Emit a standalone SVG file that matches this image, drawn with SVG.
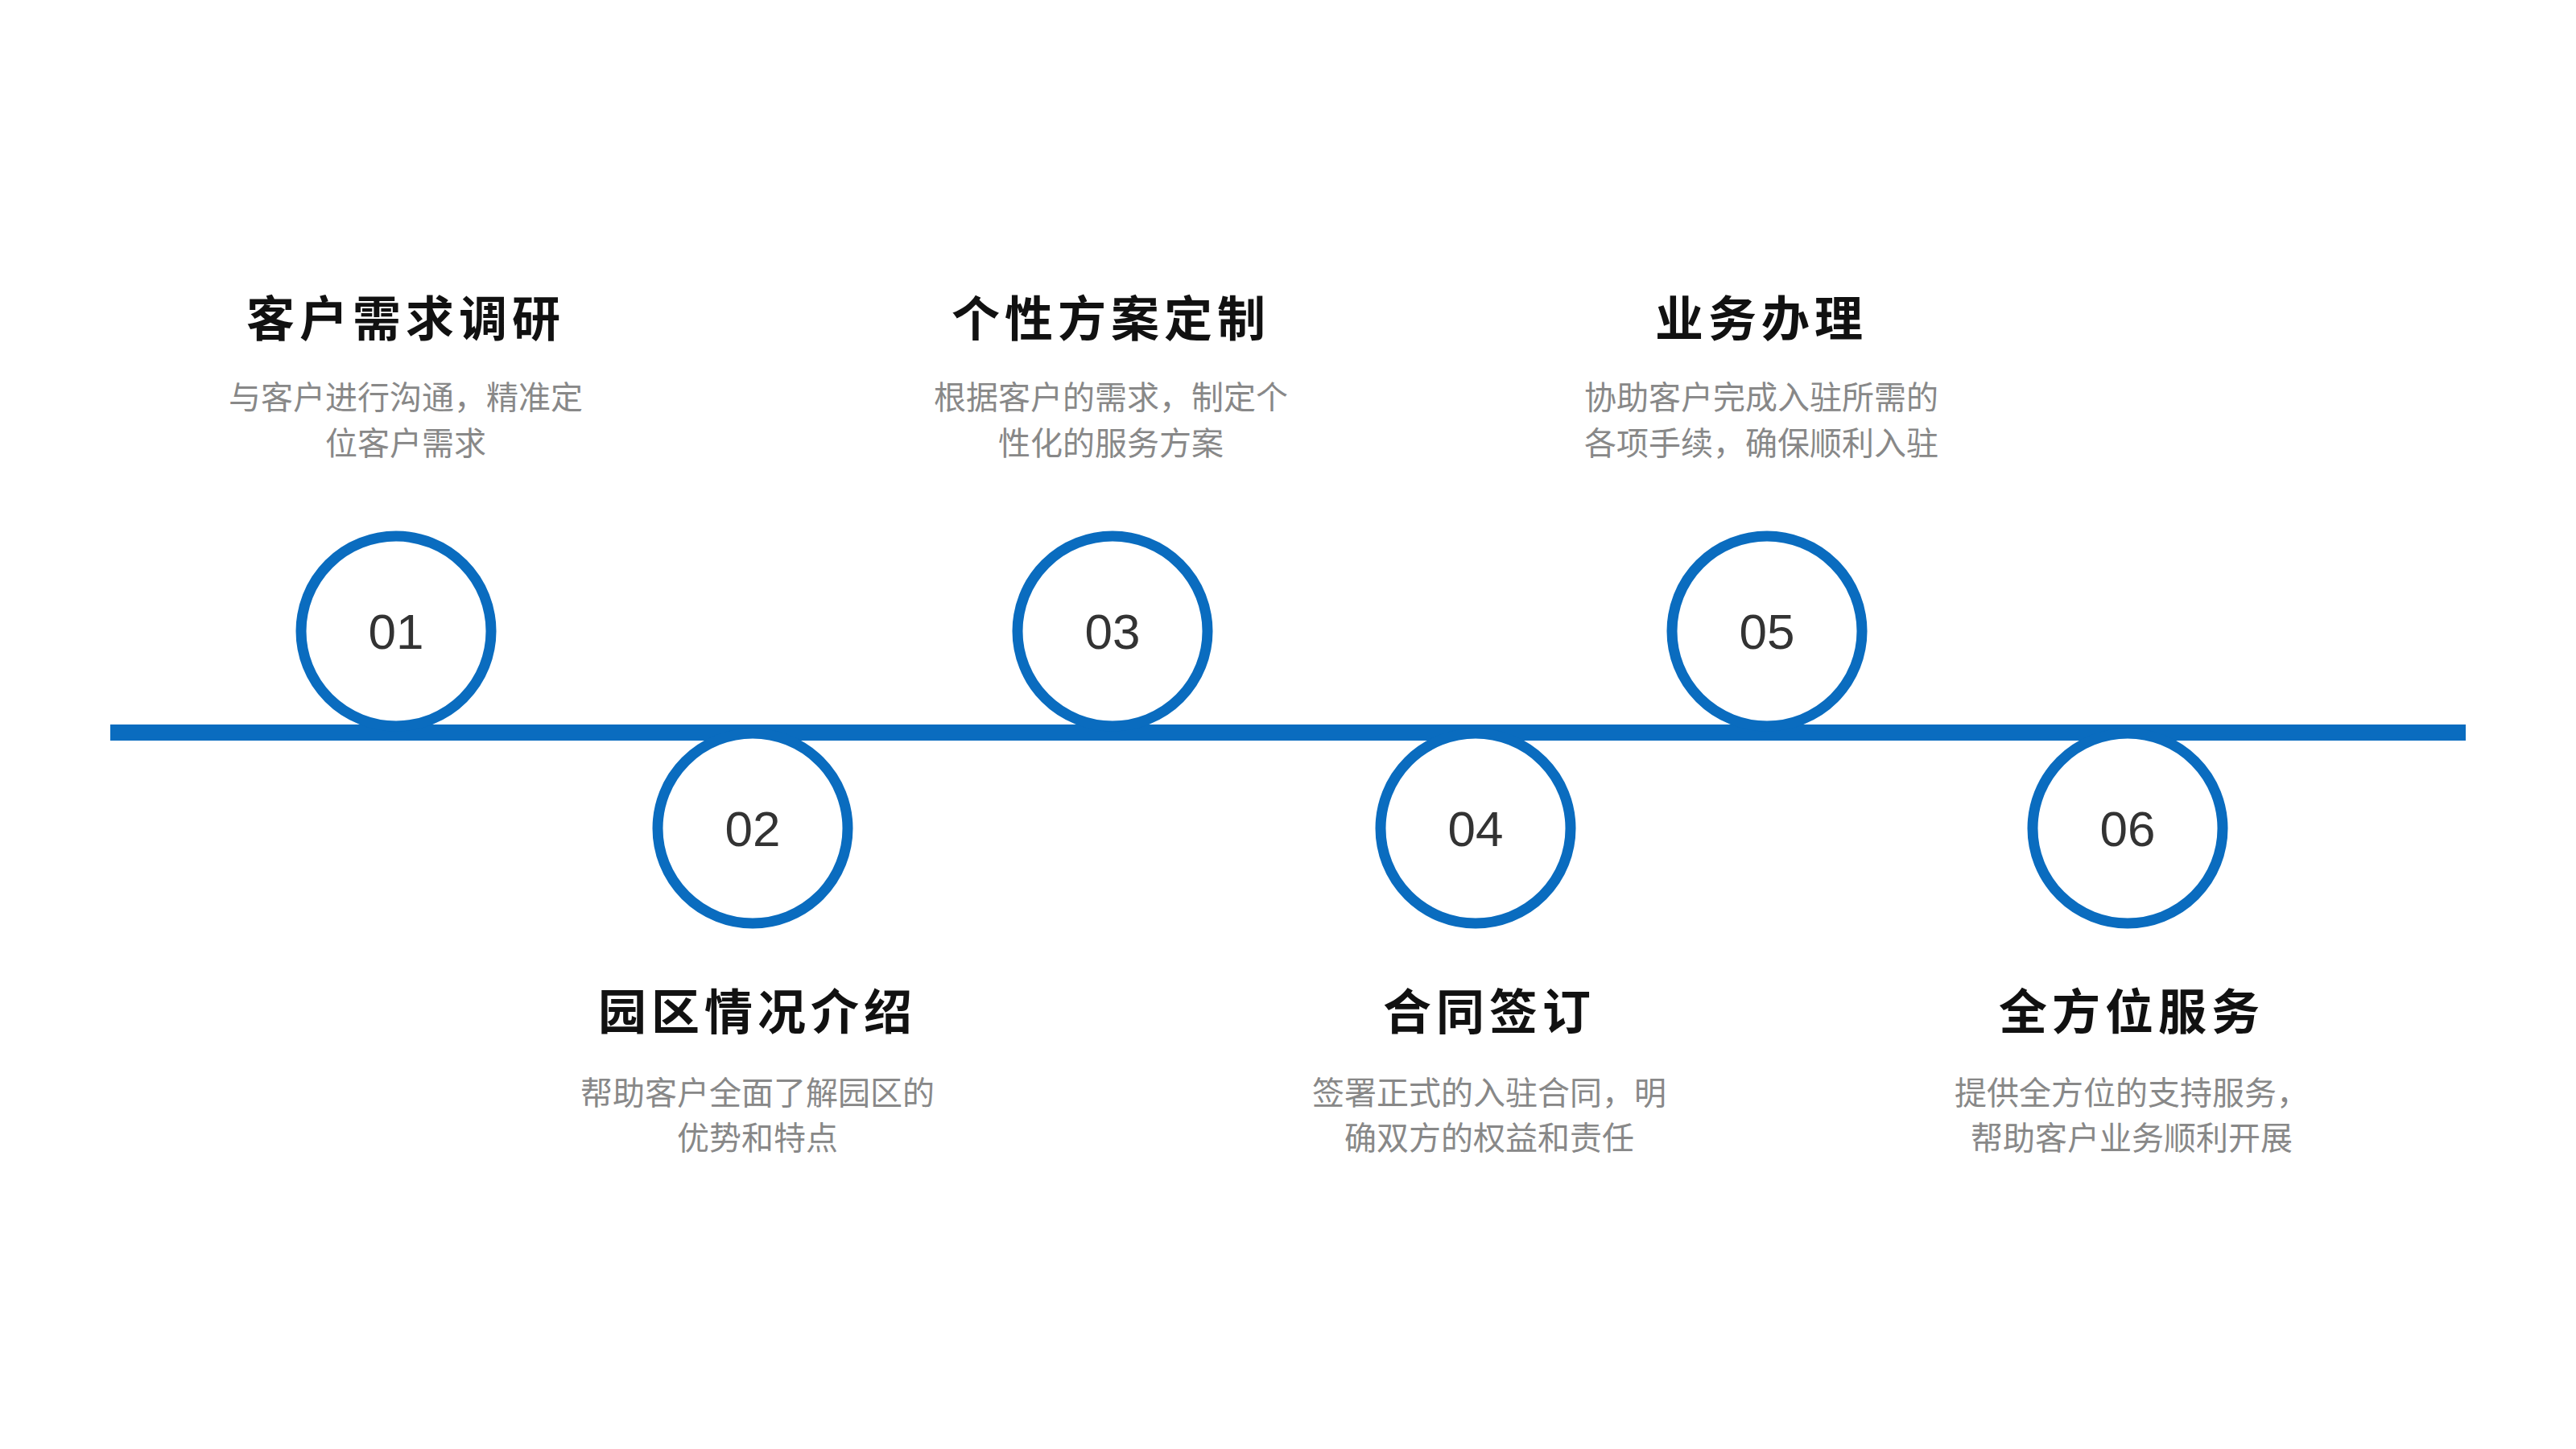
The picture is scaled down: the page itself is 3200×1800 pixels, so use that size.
<svg xmlns="http://www.w3.org/2000/svg" width="3200" height="1800" viewBox="0 0 3200 1800">
<style>
.c{fill:#fff;stroke:#0A6CBF;stroke-width:13}
.n{font-family:"Liberation Sans",Arial,sans-serif;font-size:62px;fill:#333;text-anchor:middle}
.t{font-family:"Noto Sans CJK SC",sans-serif;font-size:60px;font-weight:bold;fill:#111;text-anchor:middle;letter-spacing:6px}
.d{font-family:"Noto Sans CJK SC",sans-serif;font-size:40px;fill:#888;text-anchor:middle}
</style>
<rect width="3200" height="1800" fill="#fff"/>
<g id="connectors"><line x1="137" y1="910" x2="3063" y2="910" stroke="#0A6CBF" stroke-width="20"/></g>
<g id="n1"><circle class="c" cx="492" cy="784" r="118"/><text class="n" x="492" y="806">01</text>
<text class="t" x="504" y="418">客户需求调研</text><text class="d" x="504" y="508">与客户进行沟通，精准定</text><text class="d" x="504" y="565">位客户需求</text></g>
<g id="n2"><circle class="c" cx="935" cy="1029" r="118"/><text class="n" x="935" y="1051">02</text>
<text class="t" x="941" y="1279">园区情况介绍</text><text class="d" x="941" y="1372">帮助客户全面了解园区的</text><text class="d" x="941" y="1428">优势和特点</text></g>
<g id="n3"><circle class="c" cx="1382" cy="784" r="118"/><text class="n" x="1382" y="806">03</text>
<text class="t" x="1380" y="418">个性方案定制</text><text class="d" x="1380" y="508">根据客户的需求，制定个</text><text class="d" x="1380" y="565">性化的服务方案</text></g>
<g id="n4"><circle class="c" cx="1833" cy="1029" r="118"/><text class="n" x="1833" y="1051">04</text>
<text class="t" x="1850" y="1279">合同签订</text><text class="d" x="1850" y="1372">签署正式的入驻合同，明</text><text class="d" x="1850" y="1428">确双方的权益和责任</text></g>
<g id="n5"><circle class="c" cx="2195" cy="784" r="118"/><text class="n" x="2195" y="806">05</text>
<text class="t" x="2188" y="418">业务办理</text><text class="d" x="2188" y="508">协助客户完成入驻所需的</text><text class="d" x="2188" y="565">各项手续，确保顺利入驻</text></g>
<g id="n6"><circle class="c" cx="2643" cy="1029" r="118"/><text class="n" x="2643" y="1051">06</text>
<text class="t" x="2648" y="1279">全方位服务</text><text class="d" x="2648" y="1372">提供全方位的支持服务，</text><text class="d" x="2648" y="1428">帮助客户业务顺利开展</text></g>
</svg>
